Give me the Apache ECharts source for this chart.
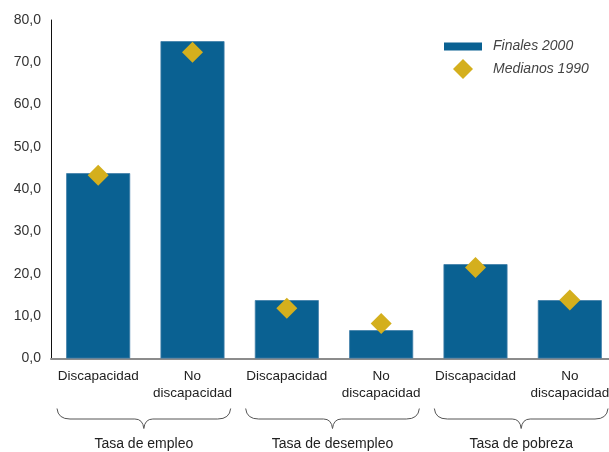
<!DOCTYPE html>
<html>
<head>
<meta charset="utf-8">
<style>
  html, body { margin: 0; padding: 0; background: #fff; }
  #chart { width: 609px; height: 452px; }
</style>
<script src="https://cdn.jsdelivr.net/npm/echarts@6/dist/echarts.min.js"></script>
</head>
<body>
<div id="chart"></div>
<script>
// Categories along the x axis and the groups they belong to
const categories = ['Discapacidad', 'No\ndiscapacidad', 'Discapacidad', 'No\ndiscapacidad', 'Discapacidad', 'No\ndiscapacidad'];
const groups = ['Tasa de empleo', 'Tasa de desempleo', 'Tasa de pobreza'];
const groupSpans = [[0, 1], [2, 3], [4, 5]];

// Series values (%)
const finales2000 = [43.8, 75.0, 13.8, 6.7, 22.3, 13.8];
const medianos1990 = [43.3, 72.4, 11.9, 8.3, 21.5, 13.8];

// Y axis ticks
const yMin = 0, yMax = 80, yStep = 10;

const FONT = 'Liberation Sans, Arial, sans-serif';
const BAR = '#0a6192';
const GOLD = '#d4af1d';

const chart = echarts.init(document.getElementById('chart'), null, { renderer: 'canvas' });

// Curly brace under a pair of categories, plus the group title
function renderBrace(params, api) {
  const a = api.value(0), b = api.value(1);
  const band = api.size([1, 0])[0];
  const pa = api.coord([a, 0]);
  const pb = api.coord([b, 0]);
  const base = pa[1];
  const xL = pa[0] - band / 2 + 6;
  const xR = pb[0] + band / 2 - 9;
  const xc = (xL + xR) / 2;
  const yTop = base + 50, yMid = base + 60.5, yBot = base + 70;
  const path = [
    'M', xL, yTop,
    'Q', xL + 1, yMid, xL + 13, yMid,
    'L', xc - 9, yMid,
    'Q', xc - 1, yMid, xc, yBot,
    'Q', xc + 1, yMid, xc + 9, yMid,
    'L', xR - 13, yMid,
    'Q', xR - 1, yMid, xR, yTop
  ].join(' ');
  return {
    type: 'group',
    children: [
      {
        type: 'path',
        shape: { pathData: path },
        style: { fill: null, stroke: '#555', lineWidth: 1 }
      },
      {
        type: 'text',
        style: {
          text: groups[params.dataIndex],
          x: xc, y: base + 86,
          align: 'center', verticalAlign: 'middle',
          font: '14px ' + FONT, fill: '#222'
        }
      }
    ]
  };
}

const option = {
  animation: false,
  backgroundColor: '#fff',
  textStyle: { fontFamily: FONT },
  grid: {
    left: 51, width: 566, top: 20, bottom: 93.5,
    containLabel: false, outerBoundsMode: 'none'
  },
  legend: [
    {
      data: ['Finales 2000'],
      left: 444, top: 39.5, padding: 0,
      itemWidth: 38, itemHeight: 8,
      icon: 'rect',
      itemStyle: { borderWidth: 0 },
      textStyle: { fontStyle: 'italic', fontSize: 14, color: '#444', padding: [0, 0, 0, 6], fontFamily: FONT }
    },
    {
      data: ['Medianos 1990'],
      left: 453, top: 59, padding: 0,
      itemWidth: 20, itemHeight: 20,
      icon: 'diamond',
      itemStyle: { opacity: 1 },
      textStyle: { fontStyle: 'italic', fontSize: 14, color: '#444', padding: [0, 0, 0, 15], fontFamily: FONT }
    }
  ],
  xAxis: {
    type: 'category',
    data: categories,
    axisLine: { show: true, lineStyle: { color: '#8c8c8c', width: 2 } },
    axisTick: { show: false },
    axisLabel: {
      interval: 0, fontSize: 13.5, color: '#222', margin: 9, lineHeight: 17, fontFamily: FONT
    }
  },
  yAxis: {
    type: 'value',
    min: yMin, max: yMax, interval: yStep,
    axisLine: { show: true, lineStyle: { color: '#111', width: 1 } },
    axisTick: { show: false },
    splitLine: { show: false },
    axisLabel: {
      fontSize: 14, color: '#333', margin: 10, fontFamily: FONT,
      formatter: v => v.toFixed(1).replace('.', ',')
    }
  },
  series: [
    {
      name: 'Finales 2000',
      type: 'bar',
      data: finales2000,
      barWidth: 64,
      itemStyle: { color: BAR, borderColor: '#3f7ea8', borderWidth: 0.8 },
      z: 2
    },
    {
      name: 'Medianos 1990',
      type: 'scatter',
      data: medianos1990,
      symbol: 'diamond',
      symbolSize: 21,
      itemStyle: { color: GOLD, opacity: 1 },
      z: 3
    },
    {
      name: 'groups',
      type: 'custom',
      data: groupSpans,
      renderItem: renderBrace,
      clip: false,
      silent: true,
      z: 1
    }
  ]
};

chart.setOption(option);
</script>
</body>
</html>
